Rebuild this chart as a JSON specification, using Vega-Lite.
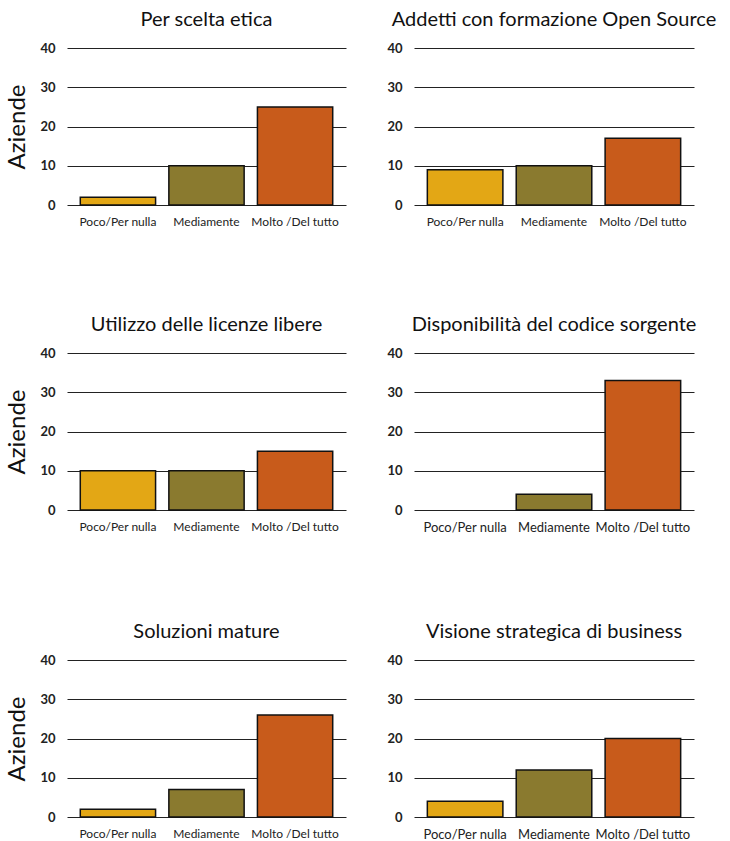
{
  "$schema": "https://vega.github.io/schema/vega-lite/v6.json",
  "padding": {"left": 5, "top": 10, "right": 5, "bottom": 5},
  "datasets": {
    "d": [
      {"pannello": "Per scelta etica", "risposta": "Poco/Per nulla", "aziende": 2},
      {"pannello": "Per scelta etica", "risposta": "Mediamente", "aziende": 10},
      {"pannello": "Per scelta etica", "risposta": "Molto /Del tutto", "aziende": 25},
      {"pannello": "Addetti con formazione Open Source", "risposta": "Poco/Per nulla", "aziende": 9},
      {"pannello": "Addetti con formazione Open Source", "risposta": "Mediamente", "aziende": 10},
      {"pannello": "Addetti con formazione Open Source", "risposta": "Molto /Del tutto", "aziende": 17},
      {"pannello": "Utilizzo delle licenze libere", "risposta": "Poco/Per nulla", "aziende": 10},
      {"pannello": "Utilizzo delle licenze libere", "risposta": "Mediamente", "aziende": 10},
      {"pannello": "Utilizzo delle licenze libere", "risposta": "Molto /Del tutto", "aziende": 15},
      {"pannello": "Disponibilità del codice sorgente", "risposta": "Poco/Per nulla", "aziende": 0},
      {"pannello": "Disponibilità del codice sorgente", "risposta": "Mediamente", "aziende": 4},
      {"pannello": "Disponibilità del codice sorgente", "risposta": "Molto /Del tutto", "aziende": 33},
      {"pannello": "Soluzioni mature", "risposta": "Poco/Per nulla", "aziende": 2},
      {"pannello": "Soluzioni mature", "risposta": "Mediamente", "aziende": 7},
      {"pannello": "Soluzioni mature", "risposta": "Molto /Del tutto", "aziende": 26},
      {"pannello": "Visione strategica di business", "risposta": "Poco/Per nulla", "aziende": 4},
      {"pannello": "Visione strategica di business", "risposta": "Mediamente", "aziende": 12},
      {"pannello": "Visione strategica di business", "risposta": "Molto /Del tutto", "aziende": 20}
    ]
  },
  "config": {
    "view": {"stroke": null},
    "font": "Lato",
    "title": {"fontSize": 20, "fontWeight": "normal", "color": "#111111", "offset": 12, "anchor": "middle"},
    "axisY": {"domain": false, "ticks": false, "gridColor": "#222222", "gridOpacity": 1, "gridWidth": 1, "labelFontSize": 13, "labelFontWeight": "bold", "labelColor": "#222222", "labelPadding": 12, "titleFontSize": 24, "titleFontWeight": "normal", "titleColor": "#111111", "titlePadding": 10},
    "axisX": {"domain": false, "ticks": false, "labelAngle": 0, "labelFontSize": 12, "labelColor": "#222222", "labelPadding": 11},
    "bar": {"stroke": "#111111", "strokeWidth": 1.5},
    "scale": {"bandPaddingInner": 0.15, "bandPaddingOuter": 0.15}
  },
  "spacing": 88,
  "vconcat": [
    {
      "spacing": 40,
      "hconcat": [
        {
          "title": "Per scelta etica",
          "width": 279, "height": 157,
          "data": {"name": "d"},
          "transform": [{"filter": "datum.pannello === 'Per scelta etica'"}],
          "mark": "bar",
          "encoding": {
            "x": {"field": "risposta", "type": "nominal", "sort": ["Poco/Per nulla", "Mediamente", "Molto /Del tutto"], "title": null},
            "y": {"field": "aziende", "type": "quantitative", "scale": {"domain": [0, 40], "nice": false}, "axis": {"values": [0, 10, 20, 30, 40], "title": "Aziende"}},
            "color": {"field": "risposta", "type": "nominal", "scale": {"domain": ["Poco/Per nulla", "Mediamente", "Molto /Del tutto"], "range": ["#E3A715", "#8A7A2F", "#C85B1B"]}, "legend": null}
          }
        },
        {
          "title": "Addetti con formazione Open Source",
          "width": 280, "height": 157,
          "data": {"name": "d"},
          "transform": [{"filter": "datum.pannello === 'Addetti con formazione Open Source'"}],
          "mark": "bar",
          "encoding": {
            "x": {"field": "risposta", "type": "nominal", "sort": ["Poco/Per nulla", "Mediamente", "Molto /Del tutto"], "title": null},
            "y": {"field": "aziende", "type": "quantitative", "scale": {"domain": [0, 40], "nice": false}, "axis": {"values": [0, 10, 20, 30, 40], "title": null}},
            "color": {"field": "risposta", "type": "nominal", "scale": {"domain": ["Poco/Per nulla", "Mediamente", "Molto /Del tutto"], "range": ["#E3A715", "#8A7A2F", "#C85B1B"]}, "legend": null}
          }
        }
      ]
    },
    {
      "spacing": 40,
      "hconcat": [
        {
          "title": "Utilizzo delle licenze libere",
          "width": 279, "height": 157,
          "data": {"name": "d"},
          "transform": [{"filter": "datum.pannello === 'Utilizzo delle licenze libere'"}],
          "mark": "bar",
          "encoding": {
            "x": {"field": "risposta", "type": "nominal", "sort": ["Poco/Per nulla", "Mediamente", "Molto /Del tutto"], "title": null},
            "y": {"field": "aziende", "type": "quantitative", "scale": {"domain": [0, 40], "nice": false}, "axis": {"values": [0, 10, 20, 30, 40], "title": "Aziende"}},
            "color": {"field": "risposta", "type": "nominal", "scale": {"domain": ["Poco/Per nulla", "Mediamente", "Molto /Del tutto"], "range": ["#E3A715", "#8A7A2F", "#C85B1B"]}, "legend": null}
          }
        },
        {
          "title": "Disponibilità del codice sorgente",
          "width": 280, "height": 157,
          "data": {"name": "d"},
          "transform": [{"filter": "datum.pannello === 'Disponibilità del codice sorgente'"}],
          "mark": "bar",
          "encoding": {
            "x": {"field": "risposta", "type": "nominal", "sort": ["Poco/Per nulla", "Mediamente", "Molto /Del tutto"], "title": null, "axis": {"labelFontSize": 13}},
            "y": {"field": "aziende", "type": "quantitative", "scale": {"domain": [0, 40], "nice": false}, "axis": {"values": [0, 10, 20, 30, 40], "title": null}},
            "color": {"field": "risposta", "type": "nominal", "scale": {"domain": ["Poco/Per nulla", "Mediamente", "Molto /Del tutto"], "range": ["#E3A715", "#8A7A2F", "#C85B1B"]}, "legend": null},
            "strokeWidth": {"condition": {"test": "datum.aziende === 0", "value": 0}, "value": 1.5}
          }
        }
      ]
    },
    {
      "spacing": 40,
      "hconcat": [
        {
          "title": "Soluzioni mature",
          "width": 279, "height": 157,
          "data": {"name": "d"},
          "transform": [{"filter": "datum.pannello === 'Soluzioni mature'"}],
          "mark": "bar",
          "encoding": {
            "x": {"field": "risposta", "type": "nominal", "sort": ["Poco/Per nulla", "Mediamente", "Molto /Del tutto"], "title": null},
            "y": {"field": "aziende", "type": "quantitative", "scale": {"domain": [0, 40], "nice": false}, "axis": {"values": [0, 10, 20, 30, 40], "title": "Aziende"}},
            "color": {"field": "risposta", "type": "nominal", "scale": {"domain": ["Poco/Per nulla", "Mediamente", "Molto /Del tutto"], "range": ["#E3A715", "#8A7A2F", "#C85B1B"]}, "legend": null}
          }
        },
        {
          "title": "Visione strategica di business",
          "width": 280, "height": 157,
          "data": {"name": "d"},
          "transform": [{"filter": "datum.pannello === 'Visione strategica di business'"}],
          "mark": "bar",
          "encoding": {
            "x": {"field": "risposta", "type": "nominal", "sort": ["Poco/Per nulla", "Mediamente", "Molto /Del tutto"], "title": null, "axis": {"labelFontSize": 13}},
            "y": {"field": "aziende", "type": "quantitative", "scale": {"domain": [0, 40], "nice": false}, "axis": {"values": [0, 10, 20, 30, 40], "title": null}},
            "color": {"field": "risposta", "type": "nominal", "scale": {"domain": ["Poco/Per nulla", "Mediamente", "Molto /Del tutto"], "range": ["#E3A715", "#8A7A2F", "#C85B1B"]}, "legend": null}
          }
        }
      ]
    }
  ]
}
